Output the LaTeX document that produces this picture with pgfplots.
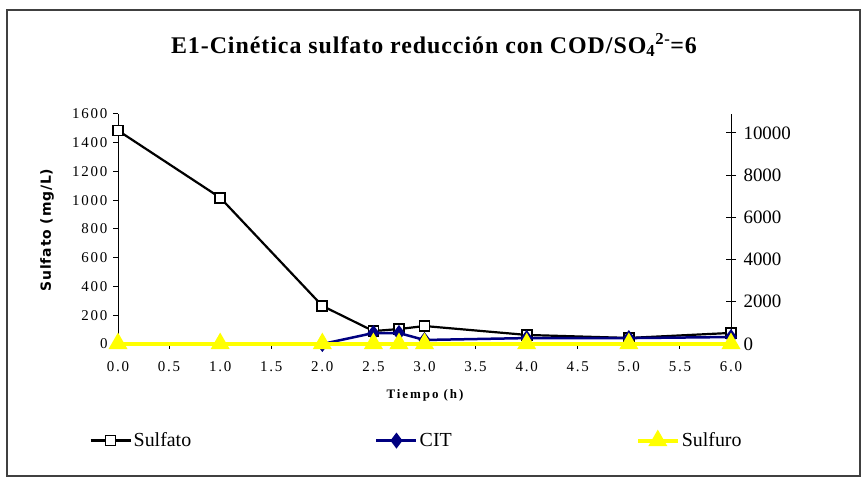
\documentclass[border=0pt]{standalone}
\usepackage{pgfplots}
\pgfplotsset{compat=1.18}
\usepackage{fontspec}
\setmainfont{Liberation Serif}
\newfontfamily\dejafont{DejaVu Sans}
\definecolor{navyc}{RGB}{0,0,128}
\definecolor{yel}{RGB}{255,255,0}
\begin{document}
\begin{tikzpicture}[x=1bp,y=1bp]
\path[use as bounding box] (0,0) rectangle (865,481);
\draw[line width=1.5bp, black!75] (7,5) rectangle (860,471);
\node[font=\bfseries\fontsize{24}{27}\selectfont\addfontfeature{LetterSpace=4}] at (434,436) {E1-Cinética sulfato reducción con COD/SO\textsubscript{4}\textsuperscript{2-}=6};
\node[rotate=90, font=\dejafont\bfseries\fontsize{14}{16}\selectfont\addfontfeature{LetterSpace=6}] at (47,251) {Sulfato (mg/L)};
\node[font=\bfseries\fontsize{13}{15}\selectfont\addfontfeature{LetterSpace=15}] at (425,86) {Tiempo (h)};
% left axis with Sulfato
\begin{axis}[at={(118bp,137bp)}, anchor=south west, scale only axis,
  width=613bp, height=230bp, xmin=0, xmax=6, ymin=0, ymax=1600,
  axis x line=bottom, axis y line=left, axis line style={-, line width=1bp},
  clip=false,
  xtick={0,0.5,...,6}, ytick={0,200,...,1600},
  tick align=outside, major tick length=5bp,
  tick style={line width=1bp, black},
  /pgf/number format/assume math mode=true,
  xticklabel style={/pgf/number format/fixed, /pgf/number format/fixed zerofill, /pgf/number format/precision=1, yshift=-9bp},
  yticklabel style={/pgf/number format/1000 sep={}, xshift=-2bp},
  ticklabel style={font=\fontsize{15}{17}\selectfont\addfontfeature{LetterSpace=12}},
]
\addplot[black, line width=2.2bp, mark=square*, mark options={fill=white, line width=1.8bp}, mark size=5bp]
 coordinates {(0,1485) (1,1018) (2,265) (2.5,90) (2.75,104) (3,125) (4,63) (5,42) (6,77)};
\end{axis}
% right axis with CIT and Sulfuro
\begin{axis}[at={(118bp,137bp)}, anchor=south west, scale only axis,
  width=613bp, height=230bp, xmin=0, xmax=6, ymin=0, ymax=10900,
  axis x line=none, axis y line=right, axis line style={-, line width=1bp},
  clip=false, scaled y ticks=false,
  ytick={0,2000,...,10000},
  tick align=center, major tick length=10bp,
  tick style={line width=1bp, black},
  /pgf/number format/assume math mode=true,
  yticklabel style={/pgf/number format/1000 sep={}, font=\fontsize{19}{22}\selectfont, xshift=4bp},
  legend columns=3,
  legend style={at={(0.487,-0.42)}, anchor=center, draw=none, fill=none,
    font=\fontsize{20}{22}\selectfont,
    /tikz/every even column/.append style={column sep=182bp}},
  legend image code/.code={\draw[mark repeat=2,mark phase=2] plot coordinates {(0bp,0bp) (20bp,0bp) (40bp,0bp)};},
]
\addlegendimage{black, line width=2.2bp, mark=square*, mark options={fill=white, line width=1.8bp}, mark size=5bp}
\addlegendentry{Sulfato}
\addplot[navyc, line width=2.5bp, mark=diamond*, mark size=6bp]
 coordinates {(2,0) (2.5,520) (2.75,520) (3,190) (4,280) (5,280) (6,330)};
\addlegendentry{CIT}
\addplot[yel, line width=4bp, mark=triangle*, mark size=7bp]
 coordinates {(0,20) (1,20) (2,20) (2.5,20) (2.75,20) (3,20) (4,20) (5,20) (6,20)};
\addlegendentry{Sulfuro}
\end{axis}
\end{tikzpicture}
\end{document}
